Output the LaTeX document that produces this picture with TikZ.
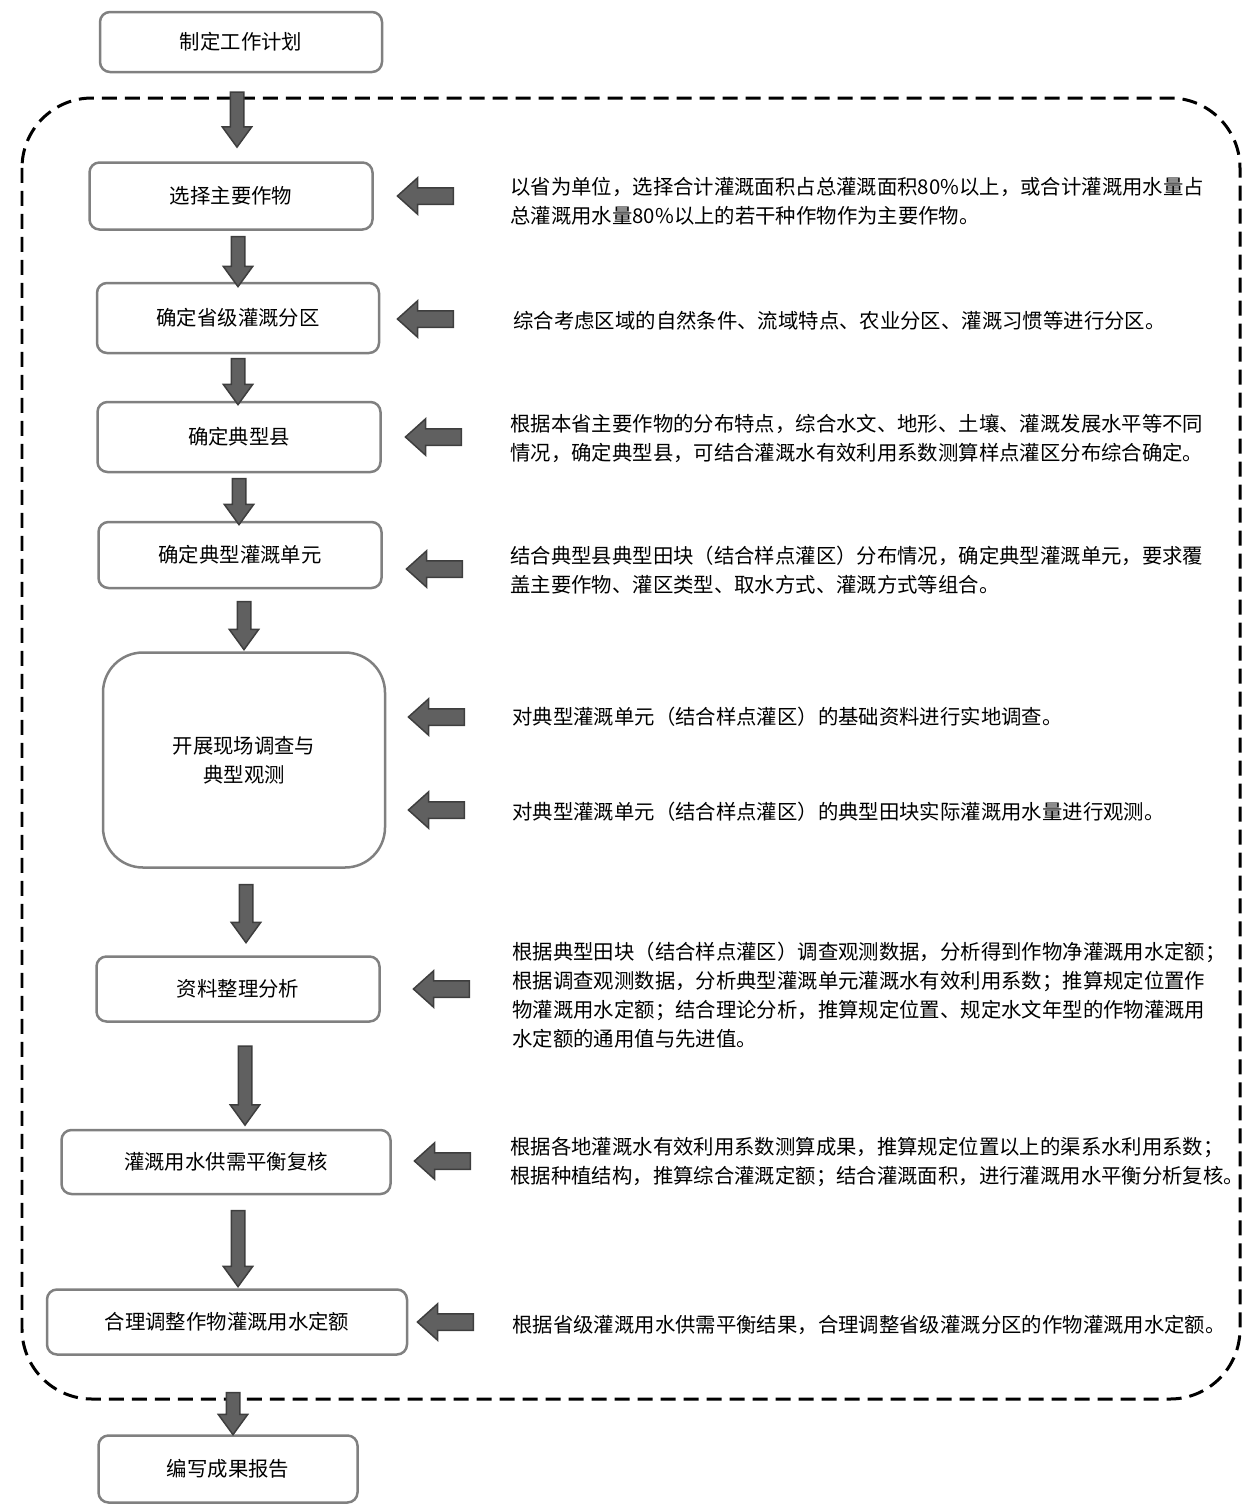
\documentclass[tikz,border=0pt]{standalone}
\usepackage{fontspec}
\usepackage{tikz}
\usetikzlibrary{positioning}
\usetikzlibrary{calc}
\usetikzlibrary{shapes.arrows}
\newfontfamily\cjk{Noto Sans CJK SC}
\definecolor{boxgray}{RGB}{128,128,128}
\definecolor{arrowfill}{RGB}{96,96,96}
\definecolor{arrowedge}{RGB}{62,62,62}
\newcommand{\px}{0.02cm}

\tikzset{
    every node/.style={font=\cjk\fontsize{11.6}{16.5}\selectfont},
    stepbox/.style={draw=boxgray, line width=0.05cm, rounded corners=0.2cm,
            align=center, inner sep=0pt},
    infotext/.style={anchor=west, align=left, inner sep=0pt},
    dnarrow/.style={single arrow, shape border rotate=270, fill=arrowfill,
            draw=arrowedge, line width=0.03cm, inner sep={6*\px},
            single arrow head extend={8*\px}, single arrow tip angle=72},
    lfarrow/.style={single arrow, shape border rotate=180, fill=arrowfill,
            draw=arrowedge, line width=0.03cm, inner sep={7.5*\px},
            minimum height={56*\px},
            single arrow head extend={10*\px}, single arrow tip angle=84},
    dashframe/.style={draw=black, line width=0.06cm,
            dash pattern=on 0.3cm off 0.16cm, rounded corners=1.4cm}
}

\begin{document}
\begin{tikzpicture}[x=0.02cm, y=-0.02cm]

    \useasboundingbox (0,0) rectangle (1243,1512);

    %P: dashed frame round the main steps
    \draw[dashframe] (22,98) rectangle (1240,1399);

    % steps
    \node[stepbox, minimum width={282*\px}, minimum height={60*\px}] (plan) at (241,42) {制定工作计划};
    \node[stepbox, minimum width={283*\px}, minimum height={67*\px}] (crop) at (231,196) {选择主要作物};
    \node[stepbox, minimum width={282*\px}, minimum height={70*\px}] (zone) at (238,318) {确定省级灌溉分区};
    \node[stepbox, minimum width={283*\px}, minimum height={70*\px}] (county) at (239,437) {确定典型县};
    \node[stepbox, minimum width={283*\px}, minimum height={66*\px}] (unit) at (240,555) {确定典型灌溉单元};
    \node[stepbox, rounded corners=0.8cm, minimum width={282*\px}, minimum height={215*\px}] (survey) at (244,760) {开展现场调查与\\典型观测};
    \node[stepbox, minimum width={283*\px}, minimum height={65*\px}] (analysis) at (238,989) {资料整理分析};
    \node[stepbox, minimum width={329*\px}, minimum height={64*\px}] (balance) at (226,1162) {灌溉用水供需平衡复核};
    \node[stepbox, minimum width={360*\px}, minimum height={65*\px}] (adjust) at (227,1322) {合理调整作物灌溉用水定额};
    \node[stepbox, minimum width={259*\px}, minimum height={67*\px}] (report) at (228,1469) {编写成果报告};

    % ------------------

    % notes
    \node[infotext] (tcrop) at (510,201) {以省为单位，选择合计灌溉面积占总灌溉面积80\%以上，或合计灌溉用水量占\\总灌溉用水量80\%以上的若干种作物作为主要作物。};
    \node[infotext] (tzone) at (513,321) {综合考虑区域的自然条件、流域特点、农业分区、灌溉习惯等进行分区。};
    \node[infotext] (tcounty) at (510,438) {根据本省主要作物的分布特点，综合水文、地形、土壤、灌溉发展水平等不同\\情况，确定典型县，可结合灌溉水有效利用系数测算样点灌区分布综合确定。};
    \node[infotext] (tunit) at (510,570) {结合典型县典型田块（结合样点灌区）分布情况，确定典型灌溉单元，要求覆\\盖主要作物、灌区类型、取水方式、灌溉方式等组合。};
    \node[infotext] (tsurvey) at (512,717) {对典型灌溉单元（结合样点灌区）的基础资料进行实地调查。};
    \node[infotext] (tobserve) at (512,812) {对典型灌溉单元（结合样点灌区）的典型田块实际灌溉用水量进行观测。};
    \node[infotext] (tanalysis) at (512,995) {根据典型田块（结合样点灌区）调查观测数据，分析得到作物净灌溉用水定额；\\根据调查观测数据，分析典型灌溉单元灌溉水有效利用系数；推算规定位置作\\物灌溉用水定额；结合理论分析，推算规定位置、规定水文年型的作物灌溉用\\水定额的通用值与先进值。};
    \node[infotext] (tbalance) at (510,1162) {根据各地灌溉水有效利用系数测算成果，推算规定位置以上的渠系水利用系数；\\根据种植结构，推算综合灌溉定额；结合灌溉面积，进行灌溉用水平衡分析复核。};
    \node[infotext] (tadjust) at (512,1325) {根据省级灌溉用水供需平衡结果，合理调整省级灌溉分区的作物灌溉用水定额。};

    % ------------------

    % flow between steps
    \node[dnarrow, minimum height={55*\px}] (aplan) at (237,115) {};
    \node[dnarrow, minimum height={50*\px}] (acrop) at (238,257) {};
    \node[dnarrow, minimum height={46*\px}] (azone) at (238,377) {};
    \node[dnarrow, minimum height={46*\px}] (acounty) at (239,497) {};
    \node[dnarrow, minimum height={48*\px}] (aunit) at (244,621) {};
    \node[dnarrow, minimum height={58*\px}] (asurvey) at (246,909) {};
    \node[dnarrow, minimum height={79*\px}] (aanalysis) at (245,1081) {};
    \node[dnarrow, minimum height={76*\px}] (abalance) at (238,1244) {};
    \node[dnarrow, minimum height={42*\px}] (aadjust) at (233,1409) {};

    % notes feeding the steps
    \node[lfarrow] (lcrop) at (430,196) {};
    \node[lfarrow] (lzone) at (430,319) {};
    \node[lfarrow] (lcounty) at (438,437) {};
    \node[lfarrow] (lunit) at (439,569) {};
    \node[lfarrow] (lsurvey) at (441,717) {};
    \node[lfarrow] (lobserve) at (441,810) {};
    \node[lfarrow] (lanalysis) at (446,989) {};
    \node[lfarrow] (lbalance) at (447,1161) {};
    \node[lfarrow] (ladjust) at (450,1322) {};

\end{tikzpicture}
\end{document}
